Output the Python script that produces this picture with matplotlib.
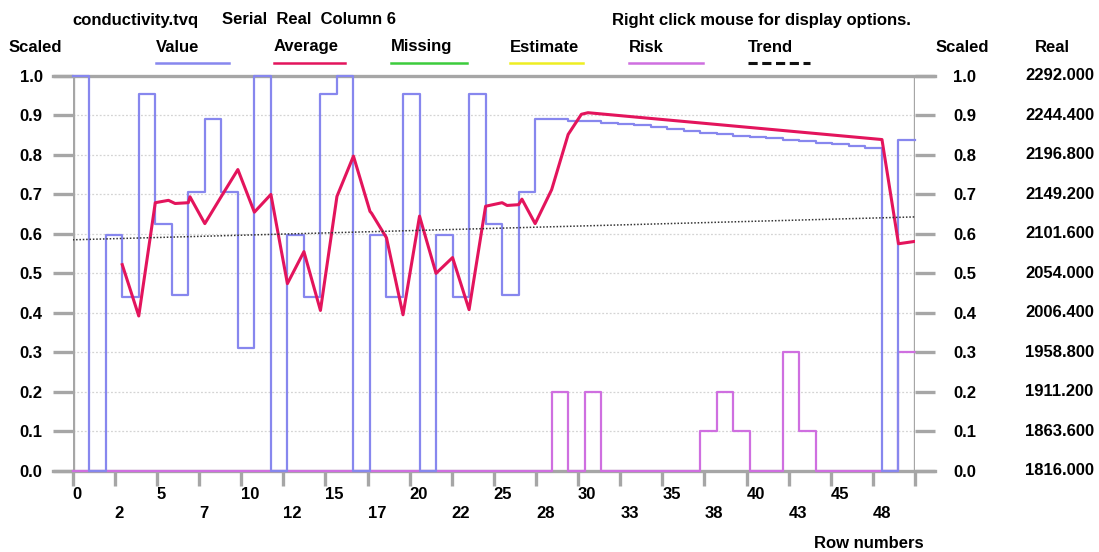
import numpy as np
import matplotlib
matplotlib.use("Agg")
import matplotlib.pyplot as plt
from matplotlib.lines import Line2D
from matplotlib.transforms import blended_transform_factory

plt.rcParams['font.family'] = ['Liberation Sans', 'DejaVu Sans']
plt.rcParams['font.weight'] = 'bold'

# scaled values per row (0..50)
value = [1.0, 0.0, 0.598, 0.44, 0.955, 0.625, 0.445, 0.706, 0.89, 0.706,
         0.31, 1.0, 0.0, 0.598, 0.44, 0.955, 1.0, 0.0, 0.597, 0.44,
         0.955, 0.0, 0.598, 0.44, 0.955, 0.625, 0.445, 0.706, 0.892, 0.890,
         0.887, 0.885, 0.882, 0.879, 0.875, 0.871, 0.866, 0.861, 0.856, 0.853,
         0.849, 0.846, 0.842, 0.839, 0.835, 0.831, 0.827, 0.823, 0.818, 0.0,
         0.838]

risk = [0, 0, 0, 0, 0, 0, 0, 0, 0, 0,
        0, 0, 0, 0, 0, 0, 0, 0, 0, 0,
        0, 0, 0, 0, 0, 0, 0, 0, 0, 0.2,
        0, 0.2, 0, 0, 0, 0, 0, 0, 0.1, 0.2,
        0.1, 0, 0, 0.3, 0.1, 0, 0, 0, 0, 0,
        0.3]

avg_x = [3, 4, 5, 5.8, 6.2, 7, 7.1, 8, 9, 10, 11, 12, 13, 14, 15, 16, 17,
         18, 18.1, 19, 20, 21, 22, 23, 24, 25, 26, 26.3, 27, 27.2, 28, 29, 30,
         30.8, 31.2, 49, 50, 51]
avg_y = [0.522, 0.392, 0.679, 0.685, 0.677, 0.679, 0.694, 0.626, 0.695, 0.763,
         0.655, 0.700, 0.474, 0.555, 0.406, 0.695, 0.797,
         0.657, 0.652, 0.590, 0.395, 0.645, 0.500, 0.540, 0.408, 0.670, 0.679,
         0.672, 0.674, 0.688, 0.626, 0.712, 0.852,
         0.903, 0.907, 0.839, 0.575, 0.581]

trend_x = [0, 51]
trend_y = [0.585, 0.643]

n_rows = len(value)
x_ticks = [i * n_rows / 20 for i in range(21)]
x_labels = ['0', '2', '5', '7', '10', '12', '15', '17', '20', '22', '25', '28',
            '30', '33', '35', '38', '40', '43', '45', '48', '']
y_ticks = [round(0.1 * i, 1) for i in range(11)]
real_min, real_max = 1816.0, 2292.0

W, H = 1099, 552
GRAY = '#a6a6a6'
BLUE = '#8787ee'
RED = '#e3145c'
VIOLET = '#cf6fe0'
FS = 12

fig = plt.figure(figsize=(W / 100, H / 100), dpi=100)
fig.patch.set_facecolor('white')


def fx(x):
    return x / W


def fy(y):
    return 1 - y / H


ax = fig.add_axes([fx(72.7), fy(470.7), fx(915) - fx(72.7), fy(76) - fy(470.7)])
ax.set_xlim(0, n_rows)
ax.set_ylim(0, 1)
for s in ax.spines.values():
    s.set_visible(False)

# grid and frame
for yv in y_ticks[1:-1]:
    ax.axhline(yv, color='#d4d4d4', lw=0.9, ls=(0, (1.5, 1.5)), zorder=1)
ext = 20 / 842.3
for yv in (0, 1):
    ax.axhline(yv, xmin=-ext, xmax=1 + ext, color=GRAY, lw=2.4, clip_on=False, zorder=2)
ax.axvline(0, color=GRAY, lw=2.4, zorder=2)
ax.axvline(n_rows, color=GRAY, lw=2.4, zorder=2)

# data
xs = np.arange(n_rows + 1)
ax.step(xs, risk + [risk[-1]], where='post', color=VIOLET, lw=1.6, zorder=3, clip_on=False)
ax.step(xs, value + [value[-1]], where='post', color=BLUE, lw=1.6, zorder=4, clip_on=False)
ax.plot(avg_x, avg_y, color=RED, lw=2.2, zorder=5)
ax.plot(trend_x, trend_y, color='#333333', lw=1.1, ls=(0, (1, 1.2)), zorder=6)

# y ticks
ax.set_yticks(y_ticks)
ax.set_yticklabels(['%.1f' % v for v in y_ticks])
ax.tick_params(axis='y', left=True, right=True, labelleft=True, labelright=False,
               length=14.6, width=2.4, color=GRAY, pad=7, labelsize=FS)
ax2 = ax.twinx()
ax2.set_ylim(0, 1)
for s in ax2.spines.values():
    s.set_visible(False)
ax2.set_yticks(y_ticks)
ax2.set_yticklabels(['%.1f' % v for v in y_ticks])
ax2.tick_params(axis='y', right=True, length=14.6, width=2.4, color=GRAY, pad=13, labelsize=FS)

# x ticks, labels in two staggered rows
ax.set_xticks(x_ticks[::2])
ax.set_xticklabels(x_labels[::2], ha='left')
ax.set_xticks(x_ticks[1::2], minor=True)
ax.set_xticklabels(x_labels[1::2], minor=True, ha='left')
ax.tick_params(axis='x', which='both', length=11, width=2.4, color=GRAY, labelsize=FS)
ax.tick_params(axis='x', which='major', pad=0.5)
ax.tick_params(axis='x', which='minor', pad=14.5)

# real value labels
tr = blended_transform_factory(fig.transFigure, ax.transData)
for v in y_ticks:
    ax.text(fx(1059.5), v, '%.3f' % (real_min + v * (real_max - real_min)), transform=tr,
            ha='center', va='center', fontsize=FS, fontweight='bold', clip_on=False)

# header
fig.text(fx(72), fy(24.5), 'conductivity.tvq', ha='left', va='baseline', fontsize=FS)
fig.text(fx(222.5), fy(24.5), 'Serial  Real  Column 6', ha='left', va='baseline', fontsize=FS)
fig.text(fx(612), fy(24.5), 'Right click mouse for display options.', ha='left',
         va='baseline', fontsize=FS)
fig.text(fx(9), fy(51.5), 'Scaled', ha='left', va='baseline', fontsize=FS)
fig.text(fx(936), fy(51.5), 'Scaled', ha='left', va='baseline', fontsize=FS)
fig.text(fx(1052), fy(51.5), 'Real', ha='center', va='baseline', fontsize=FS)

legend_items = [('Value', BLUE, '-', 156, 229), ('Average', RED, '-', 274, 345),
                ('Missing', '#3ccc3c', '-', 391, 467), ('Estimate', '#eeee22', '-', 510, 583),
                ('Risk', VIOLET, '-', 629, 703), ('Trend', '#111111', (0, (3, 1.5)), 748, 810)]
for name, col, ls, x0, x1 in legend_items:
    fig.text(fx(x0), fy(51.5), name, ha='left', va='baseline', fontsize=FS)
    fig.add_artist(Line2D([fx(x0), fx(x1)], [fy(63), fy(63)], color=col, ls=ls,
                          lw=2.2 if name == 'Trend' else 1.8, transform=fig.transFigure))

fig.text(fx(869), fy(548.5), 'Row numbers', ha='center', va='baseline', fontsize=FS)

fig.savefig('out.png', dpi=100)
